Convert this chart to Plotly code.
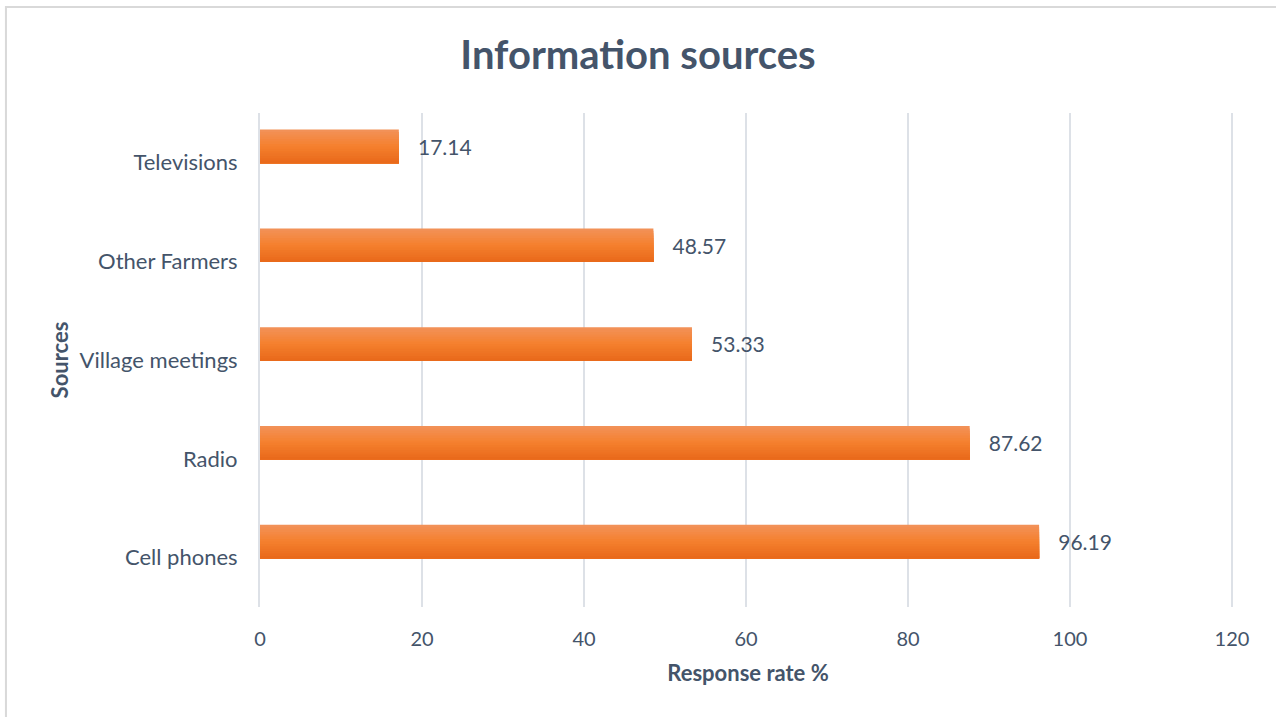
import plotly.graph_objects as go

categories = ["Cell phones", "Radio", "Village meetings", "Other Farmers", "Televisions"]
values = [96.19, 87.62, 53.33, 48.57, 17.14]
x_ticks = [0, 20, 40, 60, 80, 100, 120]

TEXT = "#44546A"
FONT = "Lato"

# vertical colour gradient of the bars (top -> bottom), drawn as nested bands
grad_stops = [(0.0, (242, 146, 90)), (0.5, (245, 128, 45)), (1.0, (232, 104, 26))]
N_BANDS = 14
BAR_W = 0.34
BAR_OFF = -0.008


def grad_color(t):
    for (t0, c0), (t1, c1) in zip(grad_stops[:-1], grad_stops[1:]):
        if t0 <= t <= t1:
            f = (t - t0) / (t1 - t0)
            return "rgb(%d,%d,%d)" % tuple(round(a + (b - a) * f) for a, b in zip(c0, c1))
    return "rgb(%d,%d,%d)" % grad_stops[-1][1]


fig = go.Figure()
band_w = BAR_W / N_BANDS
for i in range(N_BANDS):
    t = (i + 0.5) / N_BANDS  # 0 = top, 1 = bottom
    # each band spans from the bar's bottom edge up to its own top edge
    w = BAR_W - i * band_w
    fig.add_trace(go.Bar(
        y=categories, x=values, orientation="h",
        width=w, offset=BAR_OFF,
        marker=dict(color=grad_color(t), line=dict(width=0)),
        hoverinfo="skip" if i else None,
    ))

fig.add_trace(go.Bar(
    y=categories,
    x=values,
    orientation="h",
    width=BAR_W,
    offset=BAR_OFF,
    marker=dict(color="rgba(0,0,0,0)", line=dict(width=0)),
    text=values,
    texttemplate="   %{x:.2f}",
    textposition="outside",
    textfont=dict(family=FONT, size=21, color=TEXT),
    cliponaxis=False,
    hoverinfo="skip",
))

fig.update_layout(
    width=1276, height=717,
    barmode="overlay",
    margin=dict(l=260, r=40, t=113, b=110),
    paper_bgcolor="white", plot_bgcolor="white",
    showlegend=False,
    title=dict(text="<b>Information sources</b>", x=0.5, xanchor="center",
               y=0.923, yanchor="middle",
               font=dict(family=FONT, size=40, color=TEXT)),
    xaxis=dict(range=[0, 120.5], tickvals=x_ticks, showgrid=True,
               gridcolor="#DDE1E7", gridwidth=2, zeroline=False,
               showline=False, ticks="", ticklabelstandoff=18,
               tickfont=dict(family=FONT, size=20, color=TEXT),
               title=dict(text="<b>Response rate %</b>", standoff=16,
                          font=dict(family=FONT, size=22, color=TEXT))),
    yaxis=dict(showgrid=False, zeroline=False, showline=True,
               linecolor="#DDE1E7", linewidth=2, ticks="",
               ticklabelstandoff=16,
               tickfont=dict(family=FONT, size=22, color=TEXT),
               title=dict(text="<b>Sources</b>", standoff=5,
                          font=dict(family=FONT, size=22, color=TEXT))),
    shapes=[
        dict(type="rect", xref="paper", yref="paper",
             x0=-0.2603, x1=1.2, y0=-0.4, y1=1.2146,
             line=dict(color="#D9D9D9", width=2), fillcolor="rgba(0,0,0,0)",
             layer="below"),
    ],
)

fig.write_html("out.html", config={"displayModeBar": False},
               post_script="document.body.style.margin='0';document.body.style.overflow='hidden';")
